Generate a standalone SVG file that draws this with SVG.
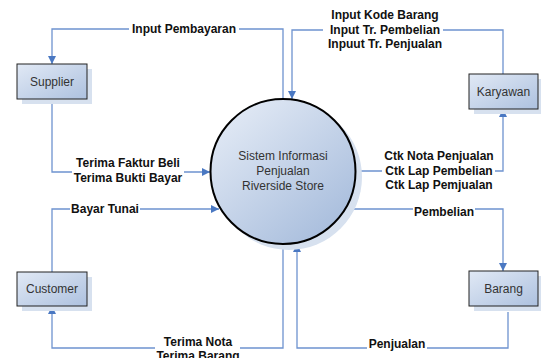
<svg xmlns="http://www.w3.org/2000/svg" width="541" height="358" viewBox="0 0 541 358">
<defs>
<linearGradient id="gBox" x1="0" y1="0" x2="1" y2="1">
<stop offset="0" stop-color="#e1e9f5"/>
<stop offset="1" stop-color="#adc1df"/>
</linearGradient>
<linearGradient id="gCirc" x1="0.15" y1="0.1" x2="0.85" y2="0.9">
<stop offset="0" stop-color="#e0e8f4"/>
<stop offset="1" stop-color="#a9bedd"/>
</linearGradient>
<marker id="arr" viewBox="0 0 10 10" refX="10" refY="5" markerWidth="8" markerHeight="8" markerUnits="userSpaceOnUse" orient="auto">
<path d="M0,0 L10,5 L0,10 Z" fill="#4a78c2"/>
</marker>
<style>
.conn{fill:none;stroke:#6e93cf;stroke-width:1.3}
.lbl{font-family:"Liberation Sans",Arial,sans-serif;font-size:12px;font-weight:bold;fill:#111;text-anchor:middle}
.bg{fill:#fff}
.box{fill:url(#gBox);stroke:#222;stroke-width:1}
.shadow{fill:#d7e1ef}
.ntxt{font-family:"Liberation Sans",Arial,sans-serif;font-size:12px;fill:#333;text-anchor:middle}
</style>
</defs>
<rect width="541" height="358" fill="#fff"/>
<g id="connectors">
<path class="conn" d="M283,99 V29 H52 V64" marker-end="url(#arr)"/>
<path class="conn" d="M503,74 V30 H292 V99" marker-end="url(#arr)"/>
<path class="conn" d="M52,99 V172 H210" marker-end="url(#arr)"/>
<path class="conn" d="M52,272 V209 H219" marker-end="url(#arr)"/>
<path class="conn" d="M357,171 H503 V109" marker-end="url(#arr)"/>
<path class="conn" d="M346,209 H503 V271" marker-end="url(#arr)"/>
<path class="conn" d="M508,312 V348 H297 V244" marker-end="url(#arr)"/>
<path class="conn" d="M283,244 V348 H52 V306" marker-end="url(#arr)"/>
<rect class="bg" x="129" y="22" width="110" height="14"/>
<rect class="bg" x="323" y="9" width="120" height="42"/>
<rect class="bg" x="72" y="157" width="112" height="29"/>
<rect class="bg" x="70" y="202" width="70" height="14"/>
<rect class="bg" x="382" y="148" width="113" height="43"/>
<rect class="bg" x="413" y="203" width="62" height="14"/>
<rect class="bg" x="367" y="338" width="60" height="14"/>
<rect class="bg" x="155" y="335" width="85" height="23"/>
<text class="lbl" x="184" y="33">Input Pembayaran</text>
<text class="lbl" x="385" y="19">Input Kode Barang</text>
<text class="lbl" x="385" y="34">Input Tr. Pembelian</text>
<text class="lbl" x="385" y="48">Inpuut Tr. Penjualan</text>
<text class="lbl" x="128" y="167">Terima Faktur Beli</text>
<text class="lbl" x="128" y="182">Terima Bukti Bayar</text>
<text class="lbl" x="105" y="213">Bayar Tunai</text>
<text class="lbl" x="439" y="160">Ctk Nota Penjualan</text>
<text class="lbl" x="439" y="175">Ctk Lap Pembelian</text>
<text class="lbl" x="439" y="189">Ctk Lap Pemjualan</text>
<text class="lbl" x="444" y="216">Pembelian</text>
<text class="lbl" x="397" y="348">Penjualan</text>
<text class="lbl" x="198" y="346">Terima Nota</text>
<text class="lbl" x="198" y="360">Terima Barang</text>
</g>
<g id="proses">
<circle cx="289" cy="177" r="73" class="shadow"/>
<circle cx="283" cy="171.5" r="72.5" fill="url(#gCirc)" stroke="#000" stroke-width="2"/>
<text class="ntxt" x="283" y="160">Sistem Informasi</text>
<text class="ntxt" x="283" y="175">Penjualan</text>
<text class="ntxt" x="283" y="190">Riverside Store</text>
</g>
<g id="supplier">
<rect class="shadow" x="22" y="69" width="70" height="35"/>
<rect class="box" x="17" y="64" width="70" height="35"/>
<text class="ntxt" x="52" y="86">Supplier</text>
</g>
<g id="karyawan">
<rect class="shadow" x="474" y="79" width="69" height="35"/>
<rect class="box" x="469" y="74" width="69" height="35"/>
<text class="ntxt" x="503.5" y="96">Karyawan</text>
</g>
<g id="customer">
<rect class="shadow" x="22" y="277" width="70" height="34"/>
<rect class="box" x="17" y="272" width="70" height="34"/>
<text class="ntxt" x="52" y="293">Customer</text>
</g>
<g id="barang">
<rect class="shadow" x="474" y="276" width="69" height="35"/>
<rect class="box" x="469" y="271" width="69" height="35"/>
<text class="ntxt" x="503.5" y="293">Barang</text>
</g>
</svg>
